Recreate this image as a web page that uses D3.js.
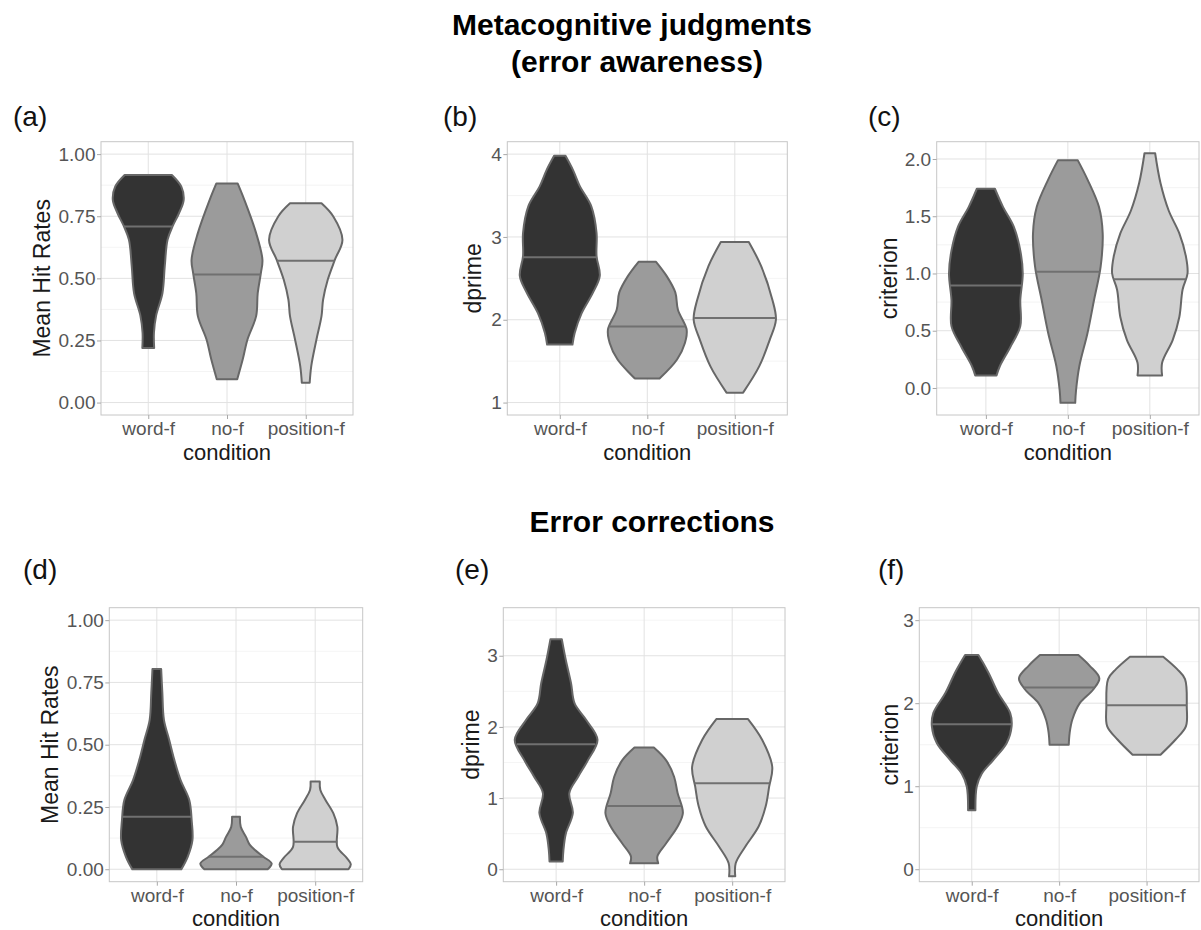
<!DOCTYPE html>
<html><head><meta charset="utf-8">
<script src="https://cdn.jsdelivr.net/npm/d3@7"></script>
<style>
body{margin:0;background:#fff;}
text{font-family:"Liberation Sans",Arial,Helvetica,sans-serif;}
</style>
</head><body>
<svg id="chart" width="1201" height="930"></svg>
<script>
// ---------------- DATA ----------------
const categories = ["word-f", "no-f", "position-f"];
const fills = ["#333333", "#9b9b9b", "#d0d0d0"];

// violin outlines: [value, half-width as fraction of the category step]
// (a) awareness – Mean Hit Rates
const aWord = [[0.22,0.075],[0.28,0.072],[0.35,0.10],[0.44,0.18],[0.55,0.21],[0.655,0.245],[0.71,0.31],[0.762,0.39],[0.816,0.45],[0.869,0.42],[0.916,0.30]];
const aNo   = [[0.094,0.13],[0.174,0.20],[0.254,0.26],[0.348,0.37],[0.44,0.39],[0.521,0.43],[0.575,0.45],[0.682,0.37],[0.816,0.22],[0.882,0.135]];
const aPos  = [[0.08,0.05],[0.147,0.07],[0.254,0.136],[0.348,0.20],[0.414,0.22],[0.495,0.28],[0.575,0.37],[0.655,0.466],[0.749,0.35],[0.802,0.20]];
const aMedians = [0.709, 0.515, 0.571];
// (b) awareness – dprime
const bWord = [[1.70,0.145],[1.84,0.17],[2.08,0.25],[2.33,0.38],[2.53,0.457],[2.77,0.42],[3.05,0.42],[3.37,0.36],[3.61,0.23],[3.81,0.15],[3.98,0.065]];
const bNo   = [[1.29,0.14],[1.52,0.34],[1.72,0.43],[1.88,0.45],[2.12,0.35],[2.33,0.32],[2.53,0.22],[2.70,0.10]];
const bPos  = [[1.12,0.095],[1.44,0.28],[1.76,0.40],[2.0,0.47],[2.24,0.43],[2.65,0.30],[2.94,0.16]];
const bMedians = [2.755, 1.92, 2.02];
// (c) awareness – criterion
const cWord = [[0.11,0.13],[0.19,0.17],[0.36,0.30],[0.54,0.42],[0.77,0.42],[1.0,0.45],[1.2,0.42],[1.41,0.34],[1.58,0.21],[1.74,0.11]];
const cNo   = [[-0.13,0.09],[-0.02,0.10],[0.19,0.14],[0.48,0.24],[0.77,0.32],[1.06,0.40],[1.35,0.425],[1.58,0.38],[1.82,0.24],[1.99,0.12]];
const cPos  = [[0.11,0.15],[0.22,0.15],[0.42,0.28],[0.62,0.36],[0.86,0.40],[1.0,0.46],[1.15,0.44],[1.35,0.36],[1.55,0.23],[1.79,0.13],[2.05,0.065]];
const cMedians = [0.894, 1.016, 0.95];
// (d) corrections – Mean Hit Rates
const dWord = [[0,0.31],[0.05,0.39],[0.117,0.45],[0.197,0.44],[0.278,0.41],[0.358,0.30],[0.44,0.22],[0.52,0.156],[0.6,0.09],[0.707,0.07],[0.804,0.055]];
const dNo   = [[0,0.40],[0.023,0.45],[0.05,0.345],[0.077,0.24],[0.10,0.17],[0.13,0.126],[0.17,0.06],[0.211,0.05]];
const dPos  = [[0,0.42],[0.02,0.45],[0.045,0.40],[0.09,0.28],[0.17,0.28],[0.224,0.23],[0.278,0.13],[0.318,0.065],[0.352,0.058]];
const dMedians = [0.211, 0.05, 0.11];
// (e) corrections – dprime
const eWord = [[0.108,0.075],[0.27,0.083],[0.5,0.11],[0.79,0.19],[1.07,0.15],[1.3,0.25],[1.53,0.36],[1.82,0.47],[2.1,0.34],[2.33,0.21],[2.61,0.17],[2.94,0.11],[3.23,0.065]];
const eNo   = [[0.084,0.16],[0.18,0.15],[0.365,0.25],[0.6,0.38],[0.79,0.44],[1.07,0.38],[1.3,0.34],[1.53,0.25],[1.71,0.11]];
const ePos  = [[-0.1,0.035],[0.084,0.04],[0.32,0.15],[0.6,0.30],[0.88,0.38],[1.16,0.42],[1.44,0.455],[1.82,0.34],[2.11,0.18]];
const eMedians = [1.755, 0.89, 1.21];
// (f) corrections – criterion
const fWord = [[0.71,0.042],[0.996,0.057],[1.15,0.114],[1.32,0.25],[1.52,0.40],[1.72,0.456],[1.88,0.44],[2.125,0.30],[2.37,0.19],[2.58,0.076]];
const fNo   = [[1.5,0.11],[1.64,0.12],[1.8,0.15],[2.0,0.236],[2.165,0.39],[2.3,0.46],[2.45,0.35],[2.58,0.22]];
const fPos  = [[1.38,0.16],[1.56,0.33],[1.72,0.45],[1.96,0.46],[2.29,0.44],[2.41,0.35],[2.56,0.19]];
const fMedians = [1.746, 2.19, 1.976];

// axis ticks and limits
const hitTicks = [0, 0.25, 0.5, 0.75, 1];
const dprimeTopTicks = [1, 2, 3, 4];
const criterionTopTicks = [0, 0.5, 1, 1.5, 2];
const dprimeBottomTicks = [0, 1, 2, 3];
const criterionBottomTicks = [0, 1, 2, 3];
const hitDomain = [-0.05, 1.05];
const dprimeTopDomain = [0.85, 4.15];
const criterionTopDomain = [-0.236, 2.151];
const dprimeBottomDomain = [-0.175, 3.675];
const criterionBottomDomain = [-0.15, 3.15];

const titleTop = ["Metacognitive judgments", "(error awareness)"];
const titleBottom = "Error corrections";
const xTitle = "condition";

// ---------------- LAYOUT ----------------
const panels = [
  {label:"(a)", lx:13,  ly:126, l:101,   t:141.7, r:353,   b:415,   yt:50,  ytitle:"Mean Hit Rates", v:[aWord,aNo,aPos], med:aMedians, ticks:hitTicks, dom:hitDomain, fmt:d3.format(".2f")},
  {label:"(b)", lx:443, ly:126, l:507.3, t:141.7, r:787.3, b:415,   yt:481, ytitle:"dprime",         v:[bWord,bNo,bPos], med:bMedians, ticks:dprimeTopTicks, dom:dprimeTopDomain, fmt:d3.format("d")},
  {label:"(c)", lx:868, ly:126, l:936.7, t:141.7, r:1199,  b:415,   yt:897, ytitle:"criterion",      v:[cWord,cNo,cPos], med:cMedians, ticks:criterionTopTicks, dom:criterionTopDomain, fmt:d3.format(".1f")},
  {label:"(d)", lx:23,  ly:579, l:109.3, t:607.7, r:362.7, b:881.7, yt:58,  ytitle:"Mean Hit Rates", v:[dWord,dNo,dPos], med:dMedians, ticks:hitTicks, dom:hitDomain, fmt:d3.format(".2f")},
  {label:"(e)", lx:455, ly:579, l:503.3, t:607.7, r:785,   b:881.7, yt:479, ytitle:"dprime",         v:[eWord,eNo,ePos], med:eMedians, ticks:dprimeBottomTicks, dom:dprimeBottomDomain, fmt:d3.format("d")},
  {label:"(f)", lx:878, ly:579, l:919.3, t:607.7, r:1199,  b:881.7, yt:898, ytitle:"criterion",      v:[fWord,fNo,fPos], med:fMedians, ticks:criterionBottomTicks, dom:criterionBottomDomain, fmt:d3.format("d")}
];

const svg = d3.select("#chart");
svg.append("rect").attr("width",1201).attr("height",930).attr("fill","#fff");

svg.append("text").attr("x",632).attr("y",35).attr("text-anchor","middle")
  .attr("font-size",30).attr("font-weight","bold").attr("fill","#000").text(titleTop[0]);
svg.append("text").attr("x",637).attr("y",71.5).attr("text-anchor","middle")
  .attr("font-size",30).attr("font-weight","bold").attr("fill","#000").text(titleTop[1]);
svg.append("text").attr("x",652).attr("y",532).attr("text-anchor","middle")
  .attr("font-size",30).attr("font-weight","bold").attr("fill","#000").text(titleBottom);

function hwAt(profile, v) {
  for (let i = 0; i < profile.length - 1; i++) {
    const [v0,h0] = profile[i], [v1,h1] = profile[i+1];
    if (v >= v0 && v <= v1) return h0 + (h1-h0)*(v-v0)/(v1-v0);
  }
  return profile[profile.length-1][1];
}

panels.forEach(p => {
  const g = svg.append("g");
  const x = d3.scalePoint().domain(categories).range([p.l, p.r]).padding(0.6);
  const y = d3.scaleLinear().domain(p.dom).range([p.b, p.t]);
  const step = x.step();

  g.append("text").attr("x",p.lx).attr("y",p.ly).attr("font-size",28).attr("fill","#111").text(p.label);

  // grid
  const tstep = p.ticks[1]-p.ticks[0];
  const minor = [p.ticks[0]-tstep/2].concat(p.ticks.map(t=>t+tstep/2))
    .filter(m => m > p.dom[0] && m < p.dom[1]);
  g.selectAll(".minor").data(minor).join("line")
    .attr("x1",p.l).attr("x2",p.r).attr("y1",d=>y(d)).attr("y2",d=>y(d))
    .attr("stroke","#efefef").attr("stroke-width",0.7);
  g.selectAll(".major").data(p.ticks).join("line")
    .attr("x1",p.l).attr("x2",p.r).attr("y1",d=>y(d)).attr("y2",d=>y(d))
    .attr("stroke","#e2e2e2").attr("stroke-width",1);
  g.selectAll(".xmajor").data(categories).join("line")
    .attr("x1",d=>x(d)).attr("x2",d=>x(d)).attr("y1",p.t).attr("y2",p.b)
    .attr("stroke","#e2e2e2").attr("stroke-width",1);

  // violins
  categories.forEach((c, i) => {
    const cx = x(c);
    const area = d3.area()
      .curve(d3.curveCatmullRom.alpha(0.5))
      .y(d => y(d[0]))
      .x0(d => cx - d[1]*step)
      .x1(d => cx + d[1]*step);
    g.append("path").datum(p.v[i]).attr("d", area)
      .attr("fill", fills[i]).attr("stroke", "#676767").attr("stroke-width", 2)
      .attr("stroke-linejoin","round");
    const m = p.med[i];
    const hw = hwAt(p.v[i], m) * step;
    g.append("line").attr("x1",cx-hw).attr("x2",cx+hw).attr("y1",y(m)).attr("y2",y(m))
      .attr("stroke","#707070").attr("stroke-width",2);
  });

  // border
  g.append("rect").attr("x",p.l).attr("y",p.t).attr("width",p.r-p.l).attr("height",p.b-p.t)
    .attr("fill","none").attr("stroke","#c6c6c6").attr("stroke-width",1);

  // axes
  const ya = g.append("g").attr("transform",`translate(${p.l},0)`)
    .call(d3.axisLeft(y).tickValues(p.ticks).tickFormat(p.fmt).tickSize(4).tickPadding(1.5));
  ya.select(".domain").remove();
  ya.selectAll("line").attr("stroke","#a8a8a8");
  ya.selectAll("text").attr("font-size",19).attr("fill","#555")
    .attr("font-family","'Liberation Sans',Arial,Helvetica,sans-serif");

  const xa = g.append("g").attr("transform",`translate(0,${p.b})`)
    .call(d3.axisBottom(x).tickSize(4).tickPadding(2.5));
  xa.select(".domain").remove();
  xa.selectAll("line").attr("stroke","#a8a8a8");
  xa.selectAll("text").attr("font-size",19).attr("fill","#555")
    .attr("font-family","'Liberation Sans',Arial,Helvetica,sans-serif");

  g.append("text").attr("x",(p.l+p.r)/2).attr("y",p.b+44.5).attr("text-anchor","middle")
    .attr("font-size",22).attr("fill","#1a1a1a").text(xTitle);
  g.append("text").attr("transform",`translate(${p.yt},${(p.t+p.b)/2}) rotate(-90)`)
    .attr("text-anchor","middle").attr("font-size",23).attr("fill","#1a1a1a").text(p.ytitle);
});
</script>
</body></html>
